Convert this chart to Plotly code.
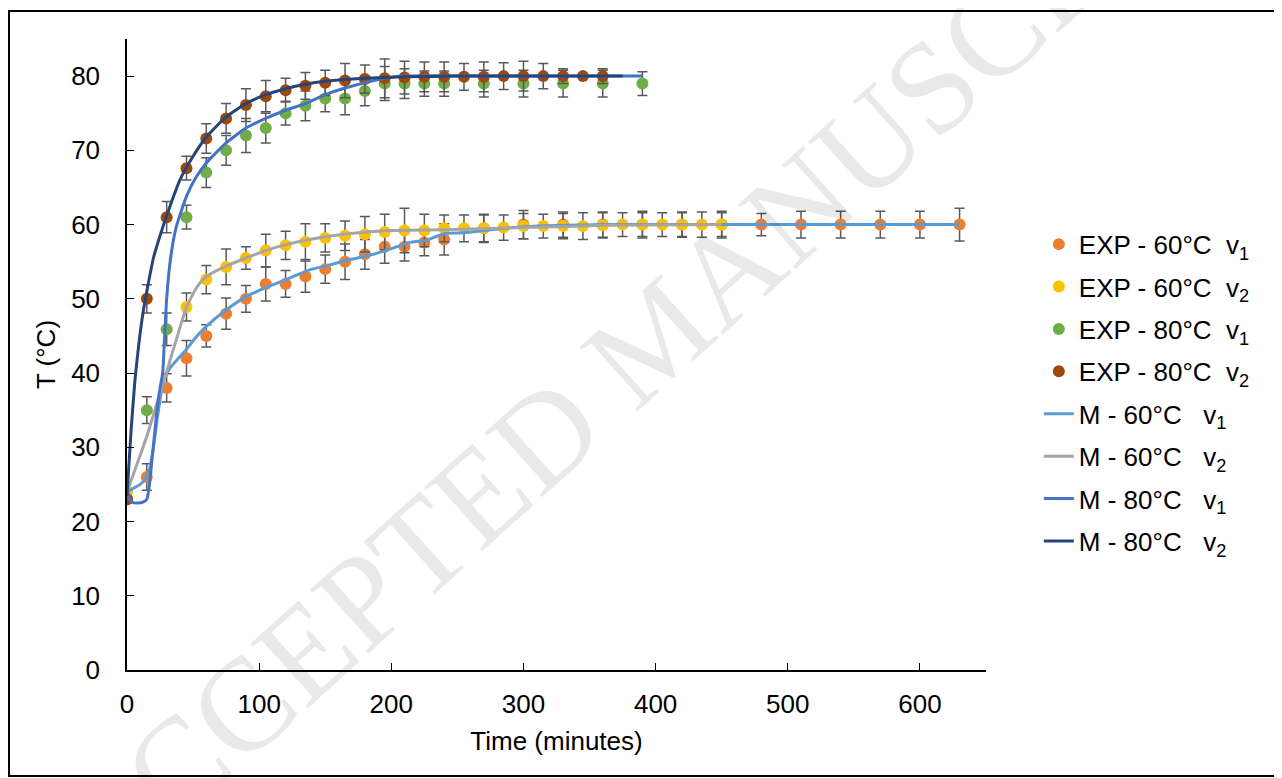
import plotly.graph_objects as go

# ---------------- data ----------------
t_exp60v1 = [0, 15, 30, 45, 60, 75, 90, 105, 120, 135, 150, 165, 180, 195, 210, 225, 240,
             270, 300, 330, 360, 390, 420, 450, 480, 510, 540, 570, 600, 630]
T_exp60v1 = [23, 26, 38, 42, 45, 48, 50, 52, 52, 53, 54, 55, 56, 57, 57, 57.6, 58,
             59.5, 60, 60, 60, 60, 60, 60, 60, 60, 60, 60, 60, 60]
E_exp60v1 = [0.5, 1.8, 1.9, 2.4, 1.5, 2.1, 1.8, 2.3, 1.8, 2.1, 1.9, 2.4, 2.0, 2.2, 1.9, 1.8, 2.1,
             1.8, 1.9, 1.7, 1.7, 1.6, 1.6, 1.6, 1.5, 1.8, 1.8, 1.8, 1.8, 2.2]

t_exp60v2 = [0, 45, 60, 75, 90, 105, 120, 135, 150, 165, 180, 195, 210, 225, 240, 255, 270,
             285, 300, 315, 330, 345, 360, 375, 390, 405, 420, 435, 450]
T_exp60v2 = [24, 48.9, 52.6, 54.3, 55.5, 56.5, 57.2, 57.7, 58.2, 58.5, 58.7, 59, 59.2, 59.2,
             59.5, 59.5, 59.5, 59.6, 59.8, 59.8, 59.8, 59.8, 59.9, 60, 60, 60, 60, 60, 60]
E_exp60v2 = [0.3, 1.9, 1.9, 2.4, 1.5, 2.2, 1.9, 2.4, 1.9, 2.0, 2.4, 2.4, 3.0, 2.2, 1.8, 1.8,
             1.9, 1.7, 1.7, 1.6, 1.7, 1.8, 1.7, 1.6, 1.8, 1.6, 1.7, 1.7, 1.8]

t_exp80v1 = [0, 15, 30, 45, 60, 75, 90, 105, 120, 135, 150, 165, 180, 195, 210, 225, 240,
             270, 300, 330, 360, 390]
T_exp80v1 = [23, 35, 45.9, 61, 67, 70, 72, 73, 75, 76, 77, 77, 78, 79, 79, 79, 79,
             79, 79, 79, 79, 79]
E_exp80v1 = [0.3, 1.8, 2.2, 1.6, 2.0, 2.0, 2.3, 2.0, 1.6, 2.0, 1.8, 2.2, 2.0, 2.3, 2.0, 1.7, 1.7,
             1.8, 1.8, 1.8, 1.8, 1.6]

t_exp80v2 = [0, 15, 30, 45, 60, 75, 90, 105, 120, 135, 150, 165, 180, 195, 210, 225, 240,
             255, 270, 285, 300, 315, 330, 345, 360]
T_exp80v2 = [23, 50, 61, 67.6, 71.6, 74.3, 76.1, 77.3, 78.1, 78.7, 79.1, 79.4, 79.6, 79.7,
             79.8, 79.9, 79.9, 79.9, 79.9, 80, 80, 80, 80, 80, 80]
E_exp80v2 = [0.3, 1.9, 2.1, 1.6, 2.0, 2.0, 2.2, 2.1, 1.6, 1.8, 1.7, 2.3, 1.9, 2.6, 2.2, 2.0,
             2.0, 1.8, 2.0, 1.8, 2.0, 1.7, 1.0, 0.3, 1.0]

# model curves
t_m60v1 = [0, 5, 10, 14, 17, 20, 23, 26, 29, 33, 38, 45, 52, 60, 75, 90, 105, 123, 138, 154,
           169, 184, 199, 214, 227, 234, 241, 255, 275, 300, 330, 360, 450, 630]
T_m60v1 = [24, 24.5, 25, 25.8, 27, 30, 34, 37.5, 39.5, 40.8, 41.8, 43.2, 44.8, 46.3, 48.5,
           50.3, 51.5, 52.8, 53.9, 54.6, 55.3, 55.9, 56.7, 57.6, 57.9, 58.4, 58.8, 58.9, 59.3,
           59.7, 59.9, 60, 60, 60]

t_m60v2 = [0, 15, 30, 38, 45, 53, 60, 75, 90, 105, 120, 138, 169, 199, 237, 300, 363, 450]
T_m60v2 = [24, 31.5, 40.2, 44.9, 48.9, 51.6, 53, 54.4, 55.5, 56.5, 57.3, 58, 58.8, 59.2,
           59.3, 59.6, 59.9, 60]

t_m80v1 = [0, 2, 4, 8, 12, 15, 17, 19, 21, 23, 25, 27, 28.5, 30, 33, 37, 45, 52, 60, 75, 90,
           105, 120, 135, 150, 165, 180, 195, 210, 300, 390]
T_m80v1 = [24, 23, 22.6, 22.5, 22.6, 23, 25, 28.5, 32, 35.5, 38, 40, 45, 50, 55.5, 59.5, 63.8,
           66.3, 68.3, 71, 73, 74.3, 75.4, 76.3, 77.5, 78.4, 79.1, 79.7, 80, 80, 80]

t_m80v2 = [0, 3, 6, 9, 12, 15, 20, 25, 30, 40, 50, 60, 75, 90, 105, 120, 135, 150, 180, 210,
           250, 300, 375]
T_m80v2 = [23.5, 32, 39, 44, 48, 51, 55.5, 58.5, 61.2, 66, 69.2, 71.8, 74.5, 76.3, 77.5, 78.3,
           78.9, 79.3, 79.7, 79.9, 80, 80, 80]

x_ticks = [0, 100, 200, 300, 400, 500, 600]
y_ticks = [0, 10, 20, 30, 40, 50, 60, 70, 80]

NB = "\u00a0\u00a0"
exp_series = [
    ("EXP - 60°C" + NB + "v<sub>1</sub>", t_exp60v1, T_exp60v1, E_exp60v1, "#ED7D31"),
    ("EXP - 60°C" + NB + "v<sub>2</sub>", t_exp60v2, T_exp60v2, E_exp60v2, "#FFC000"),
    ("EXP - 80°C" + NB + "v<sub>1</sub>", t_exp80v1, T_exp80v1, E_exp80v1, "#70AD47"),
    ("EXP - 80°C" + NB + "v<sub>2</sub>", t_exp80v2, T_exp80v2, E_exp80v2, "#9E480E"),
]
model_series = [
    ("M - 60°C" + NB + " v<sub>1</sub>", t_m60v1, T_m60v1, "#5B9BD5"),
    ("M - 60°C" + NB + " v<sub>2</sub>", t_m60v2, T_m60v2, "#A5A5A5"),
    ("M - 80°C" + NB + " v<sub>1</sub>", t_m80v1, T_m80v1, "#4472C4"),
    ("M - 80°C" + NB + " v<sub>2</sub>", t_m80v2, T_m80v2, "#264478"),
]

fig = go.Figure()
for i, (name, t, T, E, col) in enumerate(exp_series):
    fig.add_trace(go.Scatter(
        x=t, y=T, mode="markers", name=name, legendgroup=f"g{i}",
        marker=dict(color=col, size=12),
        error_y=dict(type="data", array=E, visible=True, color="#595959",
                     thickness=1.5, width=5),
    ))
for j, (name, t, T, col) in enumerate(model_series):
    fig.add_trace(go.Scatter(
        x=t, y=T, mode="lines", name=name, legendgroup=f"m{j}",
        line=dict(color=col, width=3, shape="spline", smoothing=0.5),
    ))

# plot area in figure pixels (page adds an 8 px body margin)
L, T_, R, B = 119, 31, 304, 116
PW, PH = 1282 - L - R, 778 - T_ - B

FONT = "Liberation Sans, Arial, sans-serif"
FS = 26
fig.update_layout(
    width=1282, height=778,
    margin=dict(l=L, r=R, t=T_, b=B, autoexpand=False),
    paper_bgcolor="white", plot_bgcolor="white",
    font=dict(family=FONT, size=FS, color="#000000"),
    showlegend=True,
    legend=dict(x=1.0615, y=0.712, xanchor="left", yanchor="top",
                font=dict(family=FONT, size=FS, color="#000000"),
                tracegroupgap=5.6, bgcolor="rgba(0,0,0,0)"),
    xaxis=dict(range=[0, 650], tickvals=x_ticks, ticks="inside", ticklen=7,
               tickcolor="#000", showline=True, linecolor="#000", linewidth=1.5,
               showgrid=False, zeroline=False, ticklabelstandoff=10, automargin=False,
               title=dict(text="Time (minutes)", standoff=14,
                          font=dict(family=FONT, size=FS))),
    yaxis=dict(range=[0, 85], tickvals=y_ticks, ticks="inside", ticklen=7,
               tickcolor="#000", showline=True, linecolor="#000", linewidth=1.5,
               showgrid=False, zeroline=False, ticklabelstandoff=20, automargin=False,
               title=dict(text="T (°C)", standoff=8,
                          font=dict(family=FONT, size=FS))),
)

# outer frame (figure pixels -> paper coords)
def px_to_paper_x(px):
    return (px - L) / PW

def px_to_paper_y(py):
    return (778 - B - py) / PH

fig.add_shape(type="rect", xref="paper", yref="paper",
              x0=px_to_paper_x(1), x1=px_to_paper_x(1271),
              y0=px_to_paper_y(768), y1=px_to_paper_y(3),
              line=dict(color="#000000", width=2), fillcolor="rgba(0,0,0,0)", layer="below")

# watermark
fig.add_annotation(text="ACCEPTED MANUSCRIPT", xref="paper", yref="paper",
                   x=px_to_paper_x(647), y=px_to_paper_y(327), showarrow=False,
                   textangle=-42, font=dict(family="Liberation Serif, Times New Roman, serif",
                                            size=132, color="rgba(0,0,0,0.085)"))

fig.write_html("out.html")
